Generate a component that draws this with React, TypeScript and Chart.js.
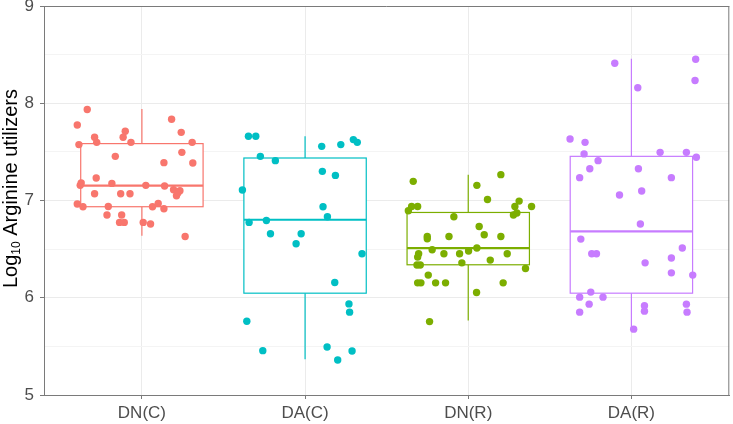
import React, { useEffect, useRef } from "react";
import { Chart, registerables } from "chart.js";

Chart.register(...registerables);

const categories = ["DN(C)", "DA(C)", "DN(R)", "DA(R)"];
const colors = ["#F8766D", "#00BFC4", "#7CAE00", "#C77CFF"];
const yTickLabels = ["5", "6", "7", "8", "9"];

// box statistics per category (log10 values)
const boxLow = [6.637, 5.368, 5.765, 5.677];
const boxQ1 = [6.936, 6.047, 6.339, 6.047];
const boxMedian = [7.152, 6.802, 6.511, 6.682];
const boxQ3 = [7.585, 7.437, 6.877, 7.454];
const boxHigh = [7.942, 7.66, 7.266, 8.457];

// jittered observations
const dnCValues = [7.935, 7.777, 7.835, 7.65, 7.712, 7.65, 7.701, 7.598, 7.575, 7.598, 7.598, 7.495, 7.454, 7.389, 7.386, 7.232, 7.18, 7.156, 7.176, 7.156, 7.149, 7.111, 7.101, 7.049, 7.077, 7.07, 7.07, 7.07, 6.964, 6.936, 6.939, 6.936, 6.97, 6.915, 6.851, 6.851, 6.775, 6.775, 6.775, 6.758, 6.63];
const dnCJitter = [-0.335, -0.396, 0.182, -0.29, -0.102, -0.115, 0.241, -0.277, -0.386, -0.067, 0.308, 0.245, -0.163, 0.135, 0.312, -0.28, -0.372, -0.378, -0.184, 0.024, 0.139, 0.194, 0.233, 0.212, 0.22, -0.29, -0.13, -0.073, -0.396, -0.361, -0.206, 0.065, 0.1, 0.135, -0.214, -0.124, -0.137, -0.108, 0.008, 0.053, 0.265];

const daCValues = [7.66, 7.66, 7.557, 7.575, 7.626, 7.598, 7.454, 7.41, 7.3, 7.258, 7.108, 6.936, 6.833, 6.775, 6.795, 6.658, 6.658, 6.555, 6.452, 6.157, 5.937, 5.852, 5.759, 5.456, 5.494, 5.453, 5.36];
const daCJitter = [-0.347, -0.302, 0.102, 0.219, 0.296, 0.32, -0.274, -0.182, 0.106, 0.186, -0.384, 0.11, 0.137, -0.343, -0.237, -0.212, -0.024, -0.055, 0.349, 0.182, 0.269, 0.273, -0.357, -0.259, 0.135, 0.288, 0.2];

const dnRValues = [7.197, 7.266, 7.156, 7.011, 6.895, 6.939, 6.939, 6.939, 6.994, 6.939, 6.851, 6.871, 6.833, 6.733, 6.648, 6.63, 6.63, 6.607, 6.63, 6.493, 6.511, 6.48, 6.452, 6.452, 6.452, 6.452, 6.418, 6.387, 6.359, 6.336, 6.336, 6.301, 6.233, 6.153, 6.153, 6.153, 6.153, 6.153, 6.054, 5.755];
const dnRJitter = [-0.337, 0.2, 0.053, 0.118, -0.367, -0.347, -0.31, 0.286, 0.312, 0.388, 0.277, 0.298, -0.088, 0.067, 0.098, 0.2, -0.251, -0.251, -0.118, -0.221, 0.053, 0.002, -0.149, -0.053, 0.239, -0.304, -0.31, 0.135, -0.039, -0.314, -0.294, 0.351, -0.245, -0.31, -0.29, -0.2, -0.139, 0.214, 0.051, -0.237];

const daRValues = [8.412, 8.453, 8.234, 8.159, 7.633, 7.598, 7.479, 7.495, 7.495, 7.444, 7.41, 7.327, 7.327, 7.235, 7.235, 7.056, 7.097, 6.758, 6.603, 6.452, 6.452, 6.511, 6.359, 6.408, 6.256, 6.233, 6.058, 6.006, 6.006, 5.934, 5.852, 5.917, 5.862, 5.934, 5.852, 5.677];
const daRJitter = [-0.102, 0.394, 0.39, 0.039, -0.376, -0.284, -0.29, 0.176, 0.337, 0.398, -0.204, -0.255, 0.043, -0.317, 0.245, -0.073, 0.063, 0.055, -0.31, -0.243, -0.214, 0.312, 0.084, 0.245, 0.245, 0.376, -0.249, -0.317, -0.174, -0.259, -0.317, 0.08, 0.08, 0.337, 0.341, 0.014];

const allValues = [dnCValues, daCValues, dnRValues, daRValues];
const allJitter = [dnCJitter, daCJitter, dnRJitter, daRJitter];

const BOX_HALF = 0.375;
const FONT = "'Liberation Sans', Arial, sans-serif";
const AXIS_GREY = "#7a7a7a";

const boxPlugin = {
  id: "boxes",
  beforeDatasetsDraw(chart: any) {
    const ctx = chart.ctx;
    const xs = chart.scales.x;
    const ys = chart.scales.y;
    ctx.save();
    for (let i = 0; i < categories.length; i++) {
      const cx = xs.getPixelForValue(i + 1);
      const left = xs.getPixelForValue(i + 1 - BOX_HALF);
      const right = xs.getPixelForValue(i + 1 + BOX_HALF);
      const yLo = ys.getPixelForValue(boxLow[i]);
      const yQ1 = ys.getPixelForValue(boxQ1[i]);
      const yMed = ys.getPixelForValue(boxMedian[i]);
      const yQ3 = ys.getPixelForValue(boxQ3[i]);
      const yHi = ys.getPixelForValue(boxHigh[i]);
      ctx.strokeStyle = colors[i];
      ctx.lineWidth = 1.2;
      ctx.beginPath();
      ctx.moveTo(cx, yQ3);
      ctx.lineTo(cx, yHi);
      ctx.moveTo(cx, yQ1);
      ctx.lineTo(cx, yLo);
      ctx.stroke();
      ctx.fillStyle = "#ffffff";
      ctx.fillRect(left, yQ3, right - left, yQ1 - yQ3);
      ctx.strokeRect(left, yQ3, right - left, yQ1 - yQ3);
      ctx.lineWidth = 2.2;
      ctx.beginPath();
      ctx.moveTo(left, yMed);
      ctx.lineTo(right, yMed);
      ctx.stroke();
    }
    ctx.restore();
  },
  afterDatasetsDraw(chart: any) {
    const ctx = chart.ctx;
    const a = chart.chartArea;
    ctx.save();
    ctx.strokeStyle = AXIS_GREY;
    ctx.lineWidth = 1;
    ctx.beginPath();
    ctx.moveTo(a.left, a.top + 0.5);
    ctx.lineTo(a.right, a.top + 0.5);
    ctx.moveTo(a.right - 0.5, a.top);
    ctx.lineTo(a.right - 0.5, a.bottom);
    ctx.stroke();
    ctx.restore();
  },
};

const yTitlePlugin = {
  id: "yTitle",
  afterDraw(chart: any) {
    const ctx = chart.ctx;
    const main1 = "Log";
    const sub = "10";
    const main2 = " Arginine utilizers";
    const mainFont = `20px ${FONT}`;
    const subFont = `12px ${FONT}`;
    ctx.save();
    ctx.font = mainFont;
    const w1 = ctx.measureText(main1).width;
    const w3 = ctx.measureText(main2).width;
    ctx.font = subFont;
    const w2 = ctx.measureText(sub).width;
    const total = w1 + w2 + w3;
    const cy = 188.5;
    ctx.translate(17, cy);
    ctx.rotate(-Math.PI / 2);
    ctx.fillStyle = "#000000";
    ctx.textBaseline = "alphabetic";
    ctx.textAlign = "left";
    let x = -total / 2;
    ctx.font = mainFont;
    ctx.fillText(main1, x, 0);
    x += w1;
    ctx.font = subFont;
    ctx.fillText(sub, x, 3);
    x += w2;
    ctx.font = mainFont;
    ctx.fillText(main2, x, 0);
    ctx.restore();
  },
};

export default function App() {
  const canvasRef = useRef<HTMLCanvasElement | null>(null);

  useEffect(() => {
    document.body.style.margin = "0";
    const canvas = canvasRef.current;
    if (!canvas) return;
    const datasets = allValues.map((vals, i) => ({
      label: categories[i],
      data: vals.map((v, j) => ({ x: i + 1 + allJitter[i][j], y: v })),
      backgroundColor: colors[i],
      borderWidth: 0,
      pointRadius: 3.7,
      pointHoverRadius: 3.7,
    }));
    const chart = new Chart(canvas, {
      type: "scatter",
      data: { datasets },
      options: {
        animation: false,
        responsive: false,
        devicePixelRatio: 1,
        layout: { padding: { top: 6, right: 2, left: 0, bottom: 0 } },
        plugins: {
          legend: { display: false },
          tooltip: { enabled: false },
          title: { display: false },
        },
        scales: {
          x: {
            type: "linear",
            min: 0.4,
            max: 4.6,
            afterBuildTicks: (scale: any) => {
              scale.ticks = categories.map((_, i) => ({ value: i + 1 }));
            },
            afterFit: (scale: any) => {
              scale.height = 29;
              scale.paddingLeft = 0;
              scale.paddingRight = 0;
            },
            ticks: {
              autoSkip: false,
              maxRotation: 0,
              padding: 4,
              color: "#4D4D4D",
              font: { family: FONT, size: 17 },
              callback: (v: any) => categories[Math.round(Number(v)) - 1] ?? "",
            },
            grid: {
              color: "#EBEBEB",
              lineWidth: 1,
              tickLength: 4,
              tickColor: AXIS_GREY,
            },
            border: { display: true, color: AXIS_GREY, width: 1 },
          },
          y: {
            type: "linear",
            min: 5,
            max: 9,
            afterBuildTicks: (scale: any) => {
              const t: any[] = [];
              for (let k = 0; k <= 8; k++) t.push({ value: 5 + k * 0.5 });
              scale.ticks = t;
            },
            afterFit: (scale: any) => {
              scale.width = 44;
              scale.paddingTop = 0;
              scale.paddingBottom = 0;
            },
            ticks: {
              autoSkip: false,
              padding: 6,
              color: "#4D4D4D",
              font: { family: FONT, size: 17 },
              callback: (v: any) => {
                const n = Number(v);
                if (Math.abs(n - Math.round(n)) > 1e-6) return "";
                return yTickLabels[Math.round(n) - 5] ?? "";
              },
            },
            grid: {
              color: (c: any) => {
                const n = c.tick ? c.tick.value : 0;
                return Math.abs(n - Math.round(n)) > 1e-6 ? "#F4F4F4" : "#EBEBEB";
              },
              lineWidth: 1,
              tickLength: 4,
              tickColor: (c: any) => {
                const n = c.tick ? c.tick.value : 0;
                return Math.abs(n - Math.round(n)) > 1e-6 ? "rgba(0,0,0,0)" : AXIS_GREY;
              },
            },
            border: { display: true, color: AXIS_GREY, width: 1 },
          },
        },
      },
      plugins: [boxPlugin, yTitlePlugin],
    } as any);
    return () => chart.destroy();
  }, []);

  return (
    <div style={{ position: "absolute", left: 0, top: 0, width: 733, height: 424, background: "#fff" }}>
      <canvas ref={canvasRef} width={733} height={424} style={{ width: 733, height: 424 }} />
    </div>
  );
}
